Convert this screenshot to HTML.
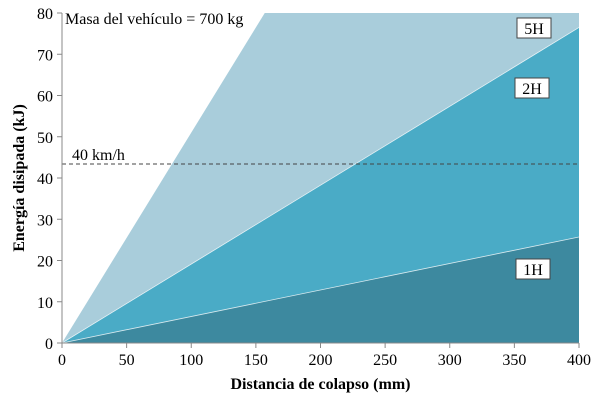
<!DOCTYPE html>
<html><head><meta charset="utf-8"><style>
html,body{margin:0;padding:0;background:#fff;}
svg{display:block;}
svg text{font-family:"Liberation Serif","Times New Roman",serif;}
</style></head><body>
<svg id="chart" width="600" height="403" viewBox="0 0 600 403" font-family="Liberation Serif, serif">
<g id="areas"></g>
<g id="axes"></g>
<g id="labels"></g>
</svg>
<script>
const xTicks=[0,50,100,150,200,250,300,350,400];
const yTicks=[0,10,20,30,40,50,60,70,80];
const seriesNames=["5H","2H","1H"];
const energyAt400=[204,76.5,25.7];
const speedLine=[43.4];
const seriesColors=["#a9cddb","#4aabc6","#3d899f"];
const X0=62,X1=579,Y0=343,Y1=13;
const xs=v=>X0+(v/400)*(X1-X0);
const ys=v=>Y0-(v/80)*(Y0-Y1);
const NS="http://www.w3.org/2000/svg";
function mk(tag,attrs,parent,text){const e=document.createElementNS(NS,tag);for(const k in attrs)e.setAttribute(k,attrs[k]);if(tag==='text')e.setAttribute('font-family','Liberation Serif, serif');if(text!==undefined)e.textContent=text;parent.appendChild(e);return e;}
const areas=document.getElementById('areas'),axes=document.getElementById('axes'),labels=document.getElementById('labels');
const cp=mk('clipPath',{id:'clip'},document.getElementById('chart'));
mk('rect',{x:X0,y:Y1,width:X1-X0,height:Y0-Y1},cp);
areas.setAttribute('clip-path','url(#clip)');
seriesNames.forEach((n,i)=>{
  const p=mk('polygon',{points:`${xs(0)},${ys(0)} ${xs(400)},${ys(energyAt400[i])} ${xs(400)},${ys(0)}`,fill:seriesColors[i]},areas);
  
  
  if(i>0){const l=mk('line',{x1:xs(0),y1:ys(0),x2:xs(400),y2:ys(energyAt400[i]),stroke:'#fff','stroke-width':0.8,'stroke-opacity':0.8},areas);
  
  }
});
const dl=mk('line',{x1:X0,y1:ys(speedLine[0]),x2:X1,y2:ys(speedLine[0]),stroke:'#444','stroke-width':1,'stroke-dasharray':'4,3'},areas);


const ax=mk('path',{d:`M${X0},${Y1}V${Y0}H${X1}`,fill:'none',stroke:'#888','stroke-width':1},axes);


xTicks.forEach(v=>{
  mk('line',{x1:xs(v),y1:Y0,x2:xs(v),y2:Y0+5,stroke:'#888'},axes);
  const t=mk('text',{x:xs(v),y:Y0+22,'text-anchor':'middle','font-size':16,fill:'#000'},axes,String(v));
  
  
});
yTicks.forEach(v=>{
  mk('line',{x1:X0-5,y1:ys(v),x2:X0,y2:ys(v),stroke:'#888'},axes);
  const t=mk('text',{x:X0-9,y:ys(v)+6,'text-anchor':'end','font-size':16,fill:'#000'},axes,String(v));
  
  
});
const xt=mk('text',{x:(X0+X1)/2,y:389,'text-anchor':'middle','font-size':16,'font-weight':'bold'},labels,'Distancia de colapso (mm)');


const yt=mk('text',{x:0,y:0,'text-anchor':'middle','font-size':16,'font-weight':'bold',transform:`translate(24,${(Y0+Y1)/2}) rotate(-90)`},labels,'Energía disipada (kJ)');


const mt=mk('text',{x:65,y:24,'font-size':16},labels,'Masa del vehículo = 700 kg');


const st=mk('text',{x:72,y:160,'font-size':16},labels,'40 km/h');


const boxes=[[517,18],[515,78],[516,259]];
seriesNames.forEach((n,i)=>{
  const g=mk('g',{},labels);
  
  
  mk('rect',{x:boxes[i][0],y:boxes[i][1],width:34,height:20,fill:'#fff',stroke:'#444','stroke-width':1},g);
  mk('text',{x:boxes[i][0]+17,y:boxes[i][1]+16,'text-anchor':'middle','font-size':16},g,n);
});
</script>
</body></html>
